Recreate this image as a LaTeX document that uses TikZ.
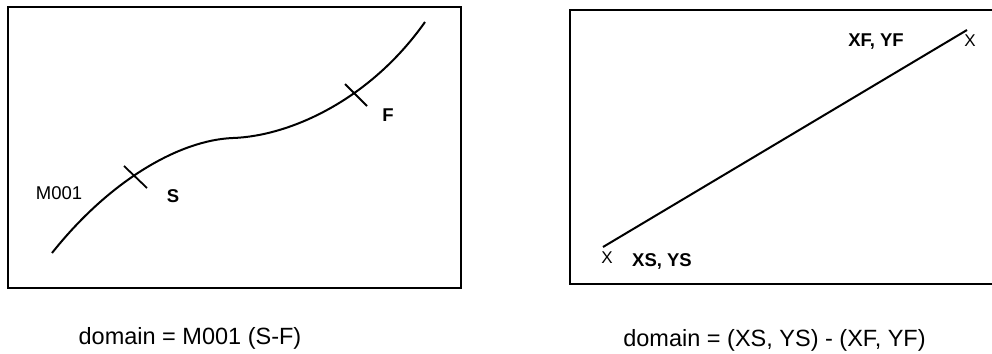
\documentclass[tikz,border=0pt]{standalone}
\usepackage{fontspec}
\setmainfont{Liberation Sans}
\begin{document}
\begin{tikzpicture}[x=1pt,y=-1pt,
  frame/.style={line width=2pt},
  curveline/.style={line width=2pt},
  tickline/.style={line width=1.8pt},
  lbl/.style={inner sep=0pt,anchor=base,font=\fontsize{18.5}{20}\selectfont},
  blbl/.style={inner sep=0pt,anchor=base,font=\fontsize{18.5}{20}\selectfont\bfseries},
  xmark/.style={inner sep=0pt,anchor=base,font=\fontsize{17}{18}\selectfont},
  caption/.style={inner sep=0pt,anchor=base,font=\fontsize{23.5}{26}\selectfont}]
\clip (0,0) rectangle (992,353);
\fill[white] (0,0) rectangle (992,353);
% left panel
\draw[frame] (8,7) rectangle (461,288);
\coordinate (cs) at (52,253);
\coordinate (cm) at (233,138);
\coordinate (ce) at (425,22);
\draw[curveline] (cs) .. controls (110,180) and (180,140) .. (cm)
                      .. controls (290,136) and (370,100) .. (ce);
\coordinate (s1) at (124,166); \coordinate (s2) at (147,188);
\coordinate (f1) at (345,84);  \coordinate (f2) at (367,106);
\draw[tickline] (s1) -- (s2);
\draw[tickline] (f1) -- (f2);
\node[lbl]  (m001) at (59,199) {M001};
\node[blbl] (slab) at (173,202) {S};
\node[blbl] (flab) at (388,121) {F};
\node[caption] (cap1) at (190,344) {domain = M001 (S-F)};
% right panel
\draw[frame] (570,10) rectangle (1000,284);
\coordinate (ls) at (603,247);
\coordinate (le) at (967,30);
\draw[curveline] (ls) -- (le);
\node[xmark] (xs) at (607,263) {X};
\node[xmark] (xf) at (970,46) {X};
\node[blbl] (xslab) at (662,266) {XS, YS};
\node[blbl] (xflab) at (876,46) {XF, YF};
\node[caption] (cap2) at (774.5,346) {domain = (XS, YS) - (XF, YF)};
\end{tikzpicture}
\end{document}
